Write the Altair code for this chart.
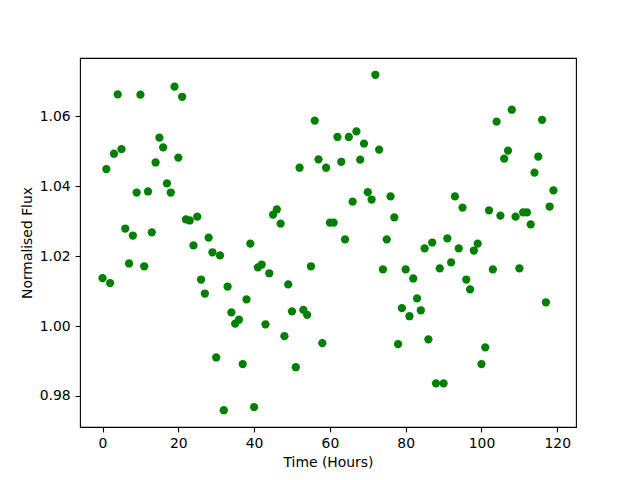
import altair as alt
import pandas as pd

hours = list(range(120))
flux = [
    1.0137, 1.0449, 1.0123, 1.0493, 1.0663, 1.0506, 1.0279, 1.0179, 1.0259, 1.0382,
    1.0662, 1.0171, 1.0385, 1.0268, 1.0468, 1.0539, 1.0511, 1.0408, 1.0382, 1.0685,
    1.0482, 1.0656, 1.0305, 1.0302, 1.0231, 1.0313, 1.0133, 1.0093, 1.0253, 1.0211,
    0.9910, 1.0202, 0.9759, 1.0113, 1.0039, 1.0007, 1.0018, 0.9891, 1.0076, 1.0236,
    0.9768, 1.0168, 1.0176, 1.0005, 1.0151, 1.0319, 1.0334, 1.0293, 0.9971, 1.0119,
    1.0042, 0.9882, 1.0453, 1.0046, 1.0032, 1.0171, 1.0588, 1.0477, 0.9951, 1.0453,
    1.0296, 1.0296, 1.0541, 1.0470, 1.0248, 1.0541, 1.0356, 1.0557, 1.0476, 1.0522,
    1.0383, 1.0362, 1.0719, 1.0505, 1.0162, 1.0248, 1.0371, 1.0311, 0.9948, 1.0051,
    1.0162, 1.0028, 1.0136, 1.0079, 1.0045, 1.0222, 0.9962, 1.0239, 0.9836, 1.0165,
    0.9836, 1.0251, 1.0182, 1.0371, 1.0222, 1.0339, 1.0133, 1.0105, 1.0216, 1.0236,
    0.9891, 0.9939, 1.0331, 1.0162, 1.0585, 1.0316, 1.0479, 1.0502, 1.0619, 1.0313,
    1.0165, 1.0325, 1.0325, 1.0291, 1.0439, 1.0485, 1.0590, 1.0068, 1.0342, 1.0388,
]
x_ticks = [0, 20, 40, 60, 80, 100, 120]
y_ticks = [0.98, 1.00, 1.02, 1.04, 1.06]

df = pd.DataFrame({"t": hours, "flux": flux})

chart = alt.Chart(df).mark_circle(size=68, color="#008000", opacity=1).encode(
    x=alt.X("t:Q",
            scale=alt.Scale(domain=[-5.95, 124.95], nice=False, zero=False),
            axis=alt.Axis(title="Time (Hours)", values=x_ticks, format="d")),
    y=alt.Y("flux:Q",
            scale=alt.Scale(domain=[0.9711, 1.0767], nice=False, zero=False),
            axis=alt.Axis(title="Normalised Flux", values=y_ticks, format=".2f")),
).properties(
    width=496, height=369,
    autosize=alt.AutoSizeParams(type="none"),
    padding={"left": 72, "top": 50, "right": 50, "bottom": 56},
).configure_view(
    stroke="black", strokeWidth=1.1
).configure_axis(
    grid=False, domain=False,
    tickColor="black", tickWidth=1.1, tickSize=4.9,
    labelPadding=4.9, labelColor="black", labelFont="DejaVu Sans", labelFontSize=13.9,
    titleFont="DejaVu Sans", titleFontSize=13.9, titleFontWeight="normal",
    titleColor="black", titlePadding=5,
)

chart.save("out.html", embed_options={"renderer": "svg", "actions": False})
